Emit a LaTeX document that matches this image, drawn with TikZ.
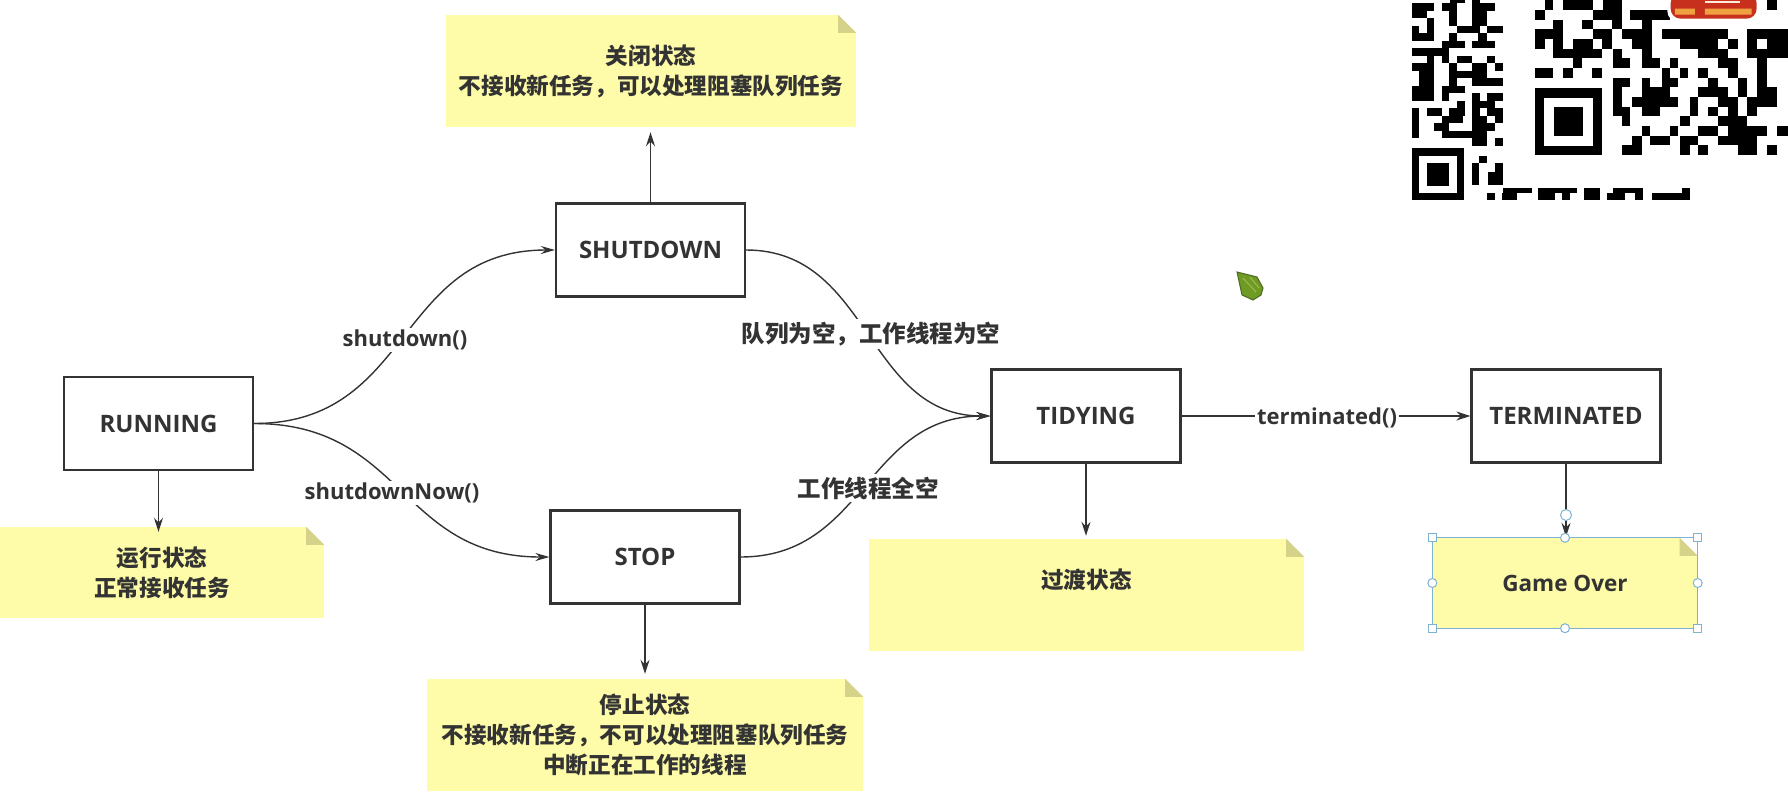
\documentclass[tikz,border=0pt]{standalone}
\usepackage{fontspec}
\usetikzlibrary{arrows.meta}
\setmainfont{Open Sans}
\newfontfamily\cjkfont{Noto Sans CJK SC}
\definecolor{ink}{HTML}{333333}
\definecolor{noteY}{HTML}{FEFCA8}
\definecolor{foldY}{HTML}{D5D389}
\definecolor{sel}{HTML}{7FB2D2}
\definecolor{frog}{HTML}{6F9A24}
\definecolor{frogdark}{HTML}{4C6B22}
\definecolor{froglight}{HTML}{9CBB50}
\definecolor{badge}{HTML}{C8301E}
\definecolor{badgetext}{HTML}{EFA040}
\newcommand\foldcorner[1]{%
  \fill[white] (#1.north east) -- ++(-18,0) -- ++(18,18) -- cycle;
  \fill[foldY] (#1.north east) ++(-18,0) -- ++(18,18) -- ++(-18,0) -- cycle;}
\newcommand\qrrow[3]{\foreach \a/\b in {#3}{\fill (\a,#1) rectangle (\b,#2);}}
\tikzset{
  statebox/.style={draw=ink,line width=2.2pt,fill=white,minimum width=189,minimum height=93,inner sep=0,text=ink,font=\bfseries\fontsize{24}{28}\selectfont},
  notebox/.style={fill=noteY,inner sep=0,align=center,text=ink,font=\cjkfont\bfseries\fontsize{22.6}{30}\selectfont},
  flow/.style={draw=ink,line width=1.8pt,-{Stealth[length=14,width=9]}},
  curve/.style={draw=ink,line width=1.4pt,-{Stealth[length=14,width=8]}},
  edgelabel/.style={fill=white,inner sep=2,text=ink,font=\bfseries\fontsize{22}{26}\selectfont},
  cjklabel/.style={fill=white,inner sep=3,text=ink,font=\cjkfont\bfseries\fontsize{23.5}{27}\selectfont},
  handlesq/.style={draw=sel,line width=1pt,fill=white,minimum size=8,inner sep=0},
  handlecirc/.style={draw=sel,line width=1pt,fill=white,circle,minimum size=9,inner sep=0},
}
\begin{document}
\begin{tikzpicture}[x=1pt,y=-1pt]
\useasboundingbox (0,0) rectangle (1788,807);
% state nodes
\node[statebox] (running) at (158.5,423.5) {RUNNING};
\node[statebox] (shutdown) at (650.5,250) {SHUTDOWN};
\node[statebox] (stop) at (645,557) {STOP};
\node[statebox] (tidying) at (1086,416) {TIDYING};
\node[statebox] (terminated) at (1566,416) {TERMINATED};
% notes
\node[notebox,minimum width=324,minimum height=91] (nrun) at (162,572.5) {运行状态\\正常接收任务};
\foldcorner{nrun}
\node[notebox,minimum width=410,minimum height=112] (nshut) at (651,71) {关闭状态\\不接收新任务，可以处理阻塞队列任务};
\foldcorner{nshut}
\node[notebox,minimum width=436,minimum height=112] (nstop) at (645,735) {停止状态\\不接收新任务，不可以处理阻塞队列任务\\中断正在工作的线程};
\foldcorner{nstop}
\node[notebox,minimum width=435,minimum height=112] (ntidy) at (1086.5,595) {过渡状态\\\phantom{过渡}};
\foldcorner{ntidy}
\node[notebox,minimum width=265,minimum height=90,font=\bfseries\fontsize{22.5}{26}\selectfont] (ngame) at (1565,583) {Game Over};
\foldcorner{ngame}
% selection frame on the Game Over note
\draw[sel,line width=.8pt] (ngame.north west) rectangle (ngame.south east);
% connectors
\draw[flow] (running.south) -- ([yshift=-5pt]running.south |- nrun.north);
\draw[flow] (shutdown.north) -- ([yshift=-5pt]shutdown.north |- nshut.south);
\draw[flow] (stop.south) -- ([yshift=5pt]stop.south |- nstop.north);
\draw[flow] (tidying.south) -- ([yshift=3pt]tidying.south |- ntidy.north);
\draw[flow] (terminated.south) -- ([yshift=1pt]terminated.south |- ngame.north);
\draw[curve] (running.east) .. controls +(160,0) and +(-160,0) .. (shutdown.west);
\draw[curve] (running.east) .. controls +(150,0) and +(-150,0) .. (stop.west);
\draw[curve] (shutdown.east) .. controls +(125,0) and +(-125,0) .. (tidying.west);
\draw[curve] (stop.east) .. controls +(125,0) and +(-125,0) .. (tidying.west);
\draw[flow,line width=1.4pt] (tidying.east) -- (terminated.west);
% connector labels
\node[edgelabel] (l1) at (405,340) {shutdown()};
\node[edgelabel] (l2) at (392,493) {shutdownNow()};
\node[cjklabel] (l3) at (871,334) {队列为空，工作线程为空};
\node[cjklabel] (l4) at (868,488) {工作线程全空};
\node[edgelabel] (l5) at (1327,418) {terminated()};
% selection handles
\foreach \n/\p in {h1/north west,h2/north east,h3/south west,h4/south east}
  \node[handlesq] (\n) at (ngame.\p) {};
\foreach \n/\p in {h5/north,h6/south,h7/west,h8/east}
  \node[handlecirc] (\n) at (ngame.\p) {};
\node[handlecirc,minimum size=11,fill=white] (h9) at (1566,515) {};
% cursor
\fill[fill=frog,draw=frogdark,line width=1pt]
  (1237,272) -- (1257,277) -- (1263,288) -- (1261,295) -- (1253,300) -- (1242,295) -- cycle;
\draw[froglight,line width=1pt] (1243,278) -- (1256,292) (1250,277) -- (1259,288);
% QR code, left part and right part
\begin{scope}[shift={(1380,0)},x=0.3333pt,y=-0.3333pt,black]
\qrrow{0}{10}{210/255,275/300}
\qrrow{10}{33}{95/162,185/232,275/345}
\qrrow{33}{55}{95/140,208/230,275/320}
\qrrow{55}{78}{140/162,208/230,275/320}
\qrrow{78}{100}{95/118,140/162,230/300,320/368}
\qrrow{100}{122}{95/162,208/230,295/320}
\qrrow{122}{145}{185/255,275/345}
\qrrow{145}{168}{95/208}
\qrrow{168}{190}{140/162,185/208,230/275,320/345}
\qrrow{190}{212}{95/162,208/230,275/320,345/368}
\qrrow{212}{235}{118/162,208/320}
\qrrow{235}{258}{118/162,208/230,275/368}
\qrrow{258}{280}{95/162,185/255}
\qrrow{280}{303}{95/162,185/208,275/300,320/368}
\qrrow{303}{325}{230/255,275/345}
\qrrow{325}{348}{95/118,140/185,208/255,275/300,320/368}
\qrrow{348}{370}{95/118,185/250,275/320,345/368}
\qrrow{370}{392}{95/118,162/208,275/345}
\qrrow{392}{415}{95/118,185/320}
\qrrow{415}{437}{275/320,345/368}
\fill (95,445) rectangle (253,600);
\fill[white] (118,467) rectangle (230,578);
\fill (140,488) rectangle (207,557);
\qrrow{467}{490}{298/322}
\qrrow{490}{515}{275/298,345/368}
\qrrow{515}{555}{275/298,325/368}
\qrrow{565}{578}{368/455,475/590,612/660,700/790,905/930}
\qrrow{578}{600}{320/345,365/410,475/525,545/570,612/660,680/735,765/790,815/930}
% right part
\qrrow{0}{30}{495/520,550/640,670/725,1160/1190}
\qrrow{30}{60}{465/495,640/725,750/870}
\qrrow{60}{88}{520/550,607/640,695/725,785/815}
\qrrow{88}{117}{465/550,640/695,725/815,845/1045,1100/1224}
\qrrow{117}{146}{465/495,520/550,580/640,665/695,755/815,900/1015,1045/1075,1100/1130,1160/1224}
\qrrow{146}{175}{520/665,700/725,785/815,955/1045,1100/1224}
\qrrow{175}{204}{580/605,700/750,785/840,870/895,1015/1075,1130/1160}
\qrrow{204}{233}{465/520,550/578,637/665,845/870,900/925,955/985,1045/1075,1130/1160}
\qrrow{233}{262}{700/750,785/810,845/895,985/1015,1075/1100,1130/1160}
\qrrow{262}{291}{700/725,785/870,955/1045,1075/1100,1130/1190}
\qrrow{291}{320}{700/725,755/895,930/955,1015/1075,1100/1190}
\qrrow{320}{349}{700/750,785/840,930/955,985/1015,1045/1075,1100/1130}
\qrrow{349}{378}{725/750,900/930,1015/1100}
\qrrow{378}{407}{785/810,870/895,955/1015,1045/1160,1190/1224}
\qrrow{407}{436}{755/785,810/870,900/955,1015/1130}
\qrrow{436}{465}{725/785,900/930,955/985,1075/1130,1160/1190}
\fill (465,265) rectangle (667,465);
\fill[white] (493,293) rectangle (638,437);
\fill (522,322) rectangle (610,408);
% badge
\fill[white,rounded corners=12] (862,-20) rectangle (1140,68);
\fill[badge,rounded corners=10] (872,-20) rectangle (1130,56);
\fill[badgetext] (885,26) rectangle (945,44) (975,26) rectangle (1115,44);
\fill[white!85!orange] (975,2) rectangle (1080,8);
\end{scope}
\end{tikzpicture}
\end{document}
